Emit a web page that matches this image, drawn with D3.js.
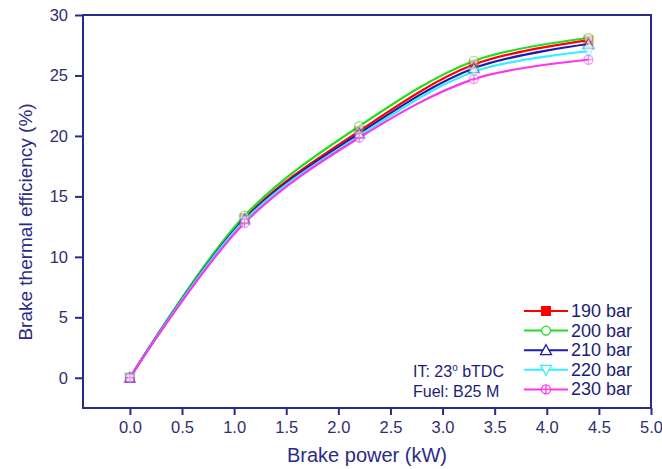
<!DOCTYPE html>
<meta charset="utf-8">
<style>
body { margin: 0; background: #fff; }
svg { display: block; font-family: "Liberation Sans", Arial, sans-serif; }
.axis text { fill: #2e2e6e; font-size: 16.5px; }
.axis path, .axis line { stroke: #2a2a8c; stroke-width: 2; }
</style>
<svg width="662" height="469"></svg>
<script src="https://cdnjs.cloudflare.com/ajax/libs/d3/7.8.5/d3.min.js"></script>
<script>

var power = [0, 1.1, 2.2, 3.3, 4.4];
var labels = ["190 bar", "200 bar", "210 bar", "220 bar", "230 bar"];
var bte190 = [0, 13.2, 20.4, 25.9, 27.9];
var bte200 = [0, 13.4, 20.8, 26.2, 28.1];
var bte210 = [0, 13.1, 20.2, 25.6, 27.6];
var bte220 = [0, 13.0, 20.0, 25.3, 27.0];
var bte230 = [0, 12.8, 19.85, 24.7, 26.3];
var xTicks = [0, 0.5, 1, 1.5, 2, 2.5, 3, 3.5, 4, 4.5, 5];
var yTicks = [0, 5, 10, 15, 20, 25, 30];

var colors = ["#ff0000", "#22dd22", "#1c1ca8", "#33f0ff", "#ff33ee"];
var symbols = ["square", "circle", "triangle", "down", "circleplus"];
var series = [bte190, bte200, bte210, bte220, bte230];

var svg = d3.select("svg");
var plotL = 83, plotR = 651, plotT = 15, plotB = 408;

var x = d3.scaleLinear().domain([-0.45, 5]).range([plotL, plotR]);
var y = d3.scaleLinear().domain([-2.5, 30]).range([plotB, plotT]);

// frame
svg.append("rect")
  .attr("x", plotL).attr("y", plotT)
  .attr("width", plotR - plotL).attr("height", plotB - plotT)
  .attr("fill", "none").attr("stroke", "#2a2a8c").attr("stroke-width", 2);

svg.append("g")
  .attr("class", "axis")
  .attr("transform", "translate(0," + plotB + ")")
  .call(d3.axisBottom(x).tickValues(xTicks).tickSize(7).tickPadding(6)
    .tickFormat(d3.format(".1f")))
  .call(function(g) { g.select(".domain").remove(); });

svg.append("g")
  .attr("class", "axis")
  .attr("transform", "translate(" + plotL + ",0)")
  .call(d3.axisLeft(y).tickValues(yTicks).tickSize(8).tickPadding(7))
  .call(function(g) { g.select(".domain").remove(); });

svg.append("text")
  .attr("x", 367).attr("y", 462)
  .attr("text-anchor", "middle")
  .attr("fill", "#2b2b86").attr("font-size", "20px")
  .text("Brake power (kW)");

svg.append("text")
  .attr("transform", "translate(32,222) rotate(-90)")
  .attr("text-anchor", "middle")
  .attr("fill", "#2b2b86").attr("font-size", "19px")
  .text("Brake thermal efficiency (%)");

var line = d3.line()
  .x(function(d, i) { return x(power[i]); })
  .y(function(d) { return y(d); })
  .curve(d3.curveCatmullRom.alpha(0.5));

function marker(g, kind, color, cx, cy) {
  var s = 4.5;
  if (kind === "square") {
    g.append("rect").attr("x", cx - s).attr("y", cy - s).attr("width", 2 * s).attr("height", 2 * s)
      .attr("fill", color).attr("stroke", color);
  } else if (kind === "circle") {
    g.append("circle").attr("cx", cx).attr("cy", cy).attr("r", s)
      .attr("fill", "#fff").attr("stroke", color).attr("stroke-width", 1.3);
  } else if (kind === "triangle") {
    g.append("path").attr("d", "M" + cx + "," + (cy - s - 1) + "L" + (cx + s + 1) + "," + (cy + s) + "L" + (cx - s - 1) + "," + (cy + s) + "Z")
      .attr("fill", "#fff").attr("stroke", color).attr("stroke-width", 1.3);
  } else if (kind === "down") {
    g.append("path").attr("d", "M" + cx + "," + (cy + s + 1) + "L" + (cx + s + 1) + "," + (cy - s) + "L" + (cx - s - 1) + "," + (cy - s) + "Z")
      .attr("fill", "#fff").attr("stroke", color).attr("stroke-width", 1.3);
  } else {
    g.append("circle").attr("cx", cx).attr("cy", cy).attr("r", s)
      .attr("fill", "#fff").attr("stroke", color).attr("stroke-width", 1.3);
    g.append("path").attr("d", "M" + (cx - s) + "," + cy + "H" + (cx + s) + "M" + cx + "," + (cy - s) + "V" + (cy + s))
      .attr("stroke", color).attr("stroke-width", 1.3);
  }
}

series.forEach(function(vals, k) {
  svg.append("path")
    .datum(vals)
    .attr("fill", "none")
    .attr("stroke", colors[k])
    .attr("stroke-width", 2.2)
    .attr("d", line);
});

series.forEach(function(vals, k) {
  var g = svg.append("g").attr("opacity", 0.5);
  vals.forEach(function(v, i) {
    marker(g, symbols[k], colors[k], x(power[i]), y(v));
  });
});

// legend
var legend = svg.append("g");
labels.forEach(function(lab, k) {
  var ly = 311 + k * 19.6;
  legend.append("line")
    .attr("x1", 524).attr("x2", 568).attr("y1", ly).attr("y2", ly)
    .attr("stroke", colors[k]).attr("stroke-width", 2);
  marker(legend, symbols[k], colors[k], 546, ly);
  legend.append("text")
    .attr("x", 571).attr("y", ly + 6)
    .attr("fill", "#1c1c78").attr("font-size", "18px")
    .text(lab);
});

var note = svg.append("text")
  .attr("x", 413).attr("y", 377)
  .attr("fill", "#1c1c78").attr("font-size", "16px");
note.append("tspan").text("IT: 23");
note.append("tspan").attr("dy", -6).attr("font-size", "10px").text("o");
note.append("tspan").attr("dy", 6).text(" bTDC");

svg.append("text")
  .attr("x", 413).attr("y", 397)
  .attr("fill", "#1c1c78").attr("font-size", "16px")
  .text("Fuel: B25 M");

</script>
